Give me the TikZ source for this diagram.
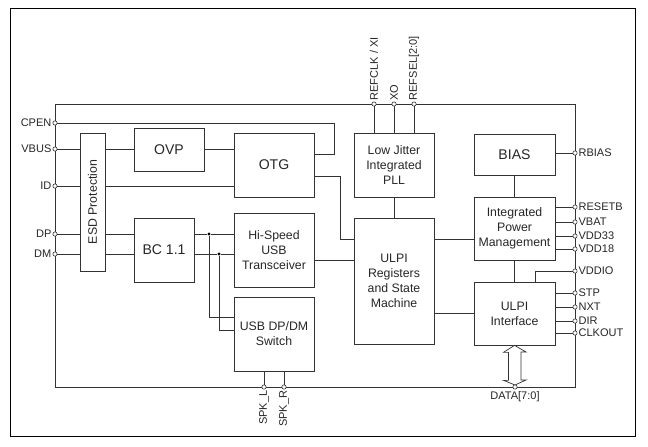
\documentclass[tikz,border=0pt]{standalone}
\usepackage{fontspec}
\setmainfont{Liberation Sans}
\begin{document}
\begin{tikzpicture}[x=0.03cm,y=-0.03cm]
	\tikzset{
		every node/.style={font=\fontsize{10.5}{12.8}\selectfont,text=black!85},
		wire/.style={draw=black!80,line width=.6pt},
		% blocks
		blk/.style 2 args={wire,minimum width=#1*0.03cm,minimum height=#2*0.03cm,inner sep=1pt,align=center},
		big/.style={font=\fontsize{12}{14}\selectfont},
		% pins
		pinc/.style={wire,fill=white,circle,inner sep=0pt,minimum size=.13cm,line width=.5pt},
		pinl/.style={font=\fontsize{9.4}{11}\selectfont,inner sep=.8pt},
		dot/.style={circle,fill=black,inner sep=0pt,minimum size=.1cm},
	}
	\useasboundingbox (0,0) rectangle (648,446);
	\draw[line width=.8pt] (10,8) rectangle (635,436);
	\draw[wire] (55,104) rectangle (575,387);
	%
	\node[blk={25}{138}] (esd) at (92.5,202) {\rotatebox{90}{ESD Protection}};
	\node[blk={70}{43},big] (ovp) at (169,149.5) {OVP};
	\node[blk={80}{64},big] (otg) at (274,165) {OTG};
	\node[blk={60}{64},big] (bc) at (164,250) {BC 1.1};
	\node[blk={80}{74}] (hs) at (274,250) {Hi-Speed\\USB\\Transceiver};
	\node[blk={80}{74}] (sw) at (274,334) {USB DP/DM\\Switch};
	\node[blk={80}{64}] (pll) at (394,165) {Low Jitter\\Integrated\\PLL};
	\node[blk={80}{126}] (reg) at (394,281) {ULPI\\Registers\\and State\\Machine};
	\node[blk={81}{41},big] (bias) at (514.5,154.5) {BIAS};
	\node[blk={81}{63}] (pm) at (514.5,228.5) {Integrated\\Power\\Management};
	\node[blk={81}{63}] (ui) at (514.5,313.5) {ULPI\\Interface};
	% junctions
	\node[dot] (j1) at (209,234) {};
	\node[dot] (j2) at (219,254) {};
	% data bus
	\draw[wire,fill=white] (ui.south) -- ++(-11,7) -- ++(5,0) -- ++(0,28) -- ++(-5,0) -- (515,385)
		-- ++(11,-5) -- ++(-5,0) -- ++(0,-28) -- ++(5,0) -- cycle;
	% pins
	\foreach \n/\y/\t in {cpen/123/CPEN,vbus/149/VBUS,id/186/ID,dp/234/DP,dm/254/DM}
		\node[pinc,label={[pinl]left:\t}] (\n) at (55,\y) {};
	\foreach \n/\x/\t in {refclk/374/{REFCLK / XI},xo/394/XO,refsel/414/{REFSEL[2:0]}}
		\node[pinc,label={[pinl,rotate=90,anchor=west]above:\t}] (\n) at (\x,104) {};
	\foreach \n/\x/\t in {spkl/264/SPK\_L,spkr/284/SPK\_R}
		\node[pinc,label={[pinl,rotate=90,anchor=east]below:\t}] (\n) at (\x,387) {};
	\node[pinc,label={[pinl,yshift=-1pt]below:{DATA[7:0]}}] (data) at (515,387) {};
	\foreach \n/\y/\t in {rbias/153/RBIAS,resetb/207/RESETB,vbat/222/VBAT,vdd33/236/VDD33,vdd18/249/VDD18,
		vddio/271/VDDIO,stp/293/STP,nxt/307/NXT,dir/321/DIR,clkout/333/CLKOUT}
		\node[pinc,label={[pinl]right:\t}] (\n) at (575,\y) {};
	% lines
	\draw[wire] (cpen) -| (334,154) -- (otg.east |- 0,154);
	\foreach \n in {vbus,id,dp,dm} \draw[wire] (\n) -- (esd.west |- \n);
	\draw[wire] (esd.east |- vbus) -- (ovp.west |- vbus) (ovp.east |- vbus) -- (otg.west |- vbus);
	\draw[wire] (esd.east |- id) -- (otg.west |- id);
	\draw[wire] (esd.east |- dp) -- (bc.west |- dp) (bc.east |- dp) -- (j1) -- (hs.west |- dp);
	\draw[wire] (esd.east |- dm) -- (bc.west |- dm) (bc.east |- dm) -- (j2) -- (hs.west |- dm);
	\draw[wire] (j1) |- (sw.west |- 0,317);
	\draw[wire] (j2) |- (sw.west |- 0,330);
	\draw[wire] (otg.east |- 0,176) -| (340,239) -- (reg.west |- 0,239);
	\draw[wire] (hs.east |- 0,260) -- (reg.west |- 0,260);
	\draw[wire] (pll) -- (reg);
	\foreach \n in {refclk,xo,refsel} \draw[wire] (\n) -- (pll.north -| \n);
	\draw[wire] (reg.east |- 0,239) -- (pm.west |- 0,239);
	\draw[wire] (reg.east |- 0,313) -- (ui.west |- 0,313);
	\draw[wire] (bias) -- (pm) (pm) -- (ui);
	\foreach \n in {rbias} \draw[wire] (bias.east |- \n) -- (\n);
	\foreach \n in {resetb,vbat,vdd33,vdd18} \draw[wire] (pm.east |- \n) -- (\n);
	\foreach \n in {stp,nxt,dir,clkout} \draw[wire] (ui.east |- \n) -- (\n);
	\draw[wire] (vddio) -| (ui.north -| 535,0);
	\foreach \n in {spkl,spkr} \draw[wire] (sw.south -| \n) -- (\n);
\end{tikzpicture}
\end{document}
